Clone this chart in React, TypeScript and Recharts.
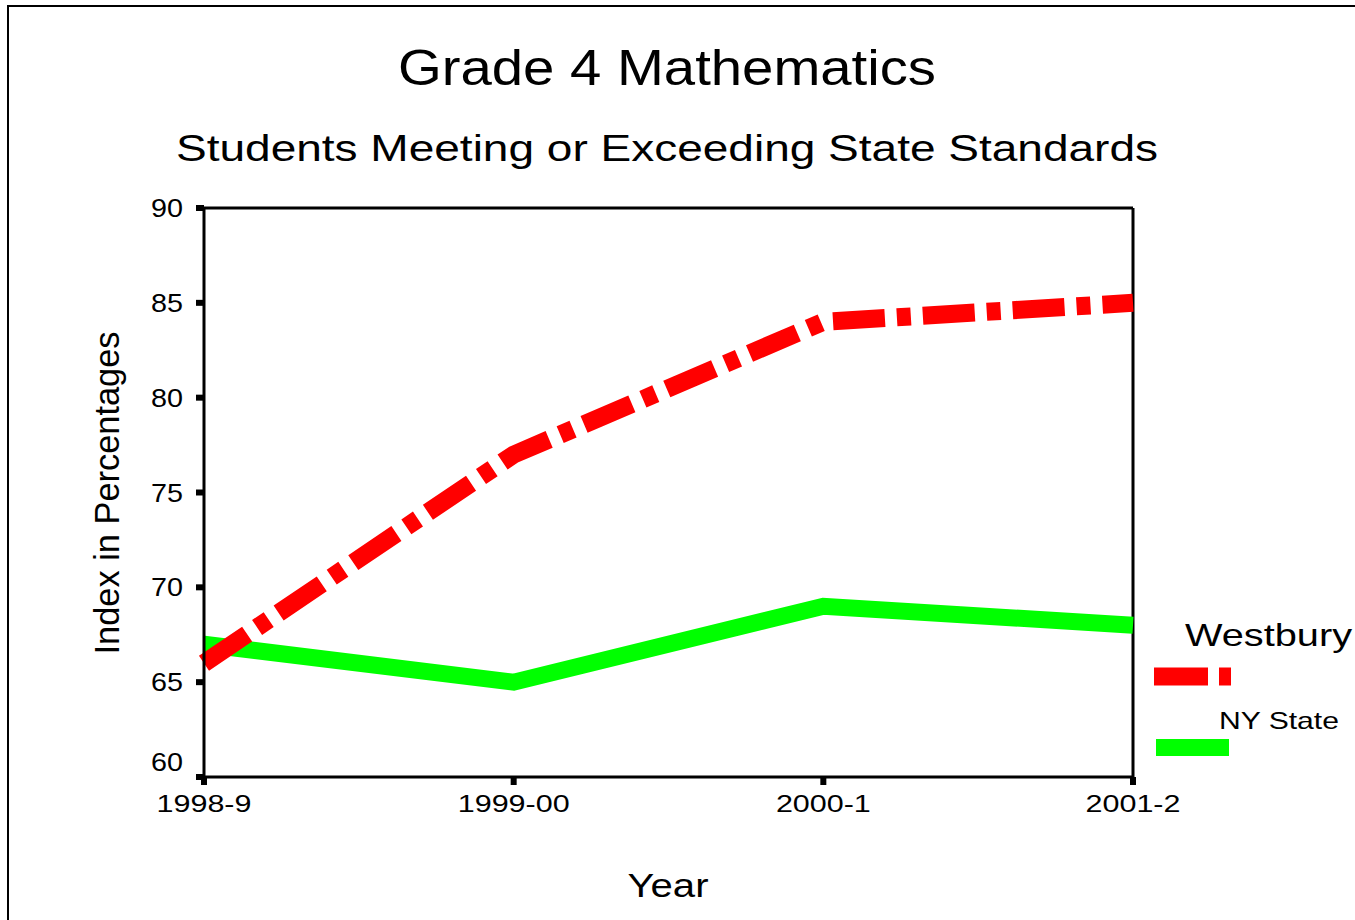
import React from 'react'
import { LineChart, Line, XAxis, YAxis, ReferenceLine, Legend } from 'recharts'

const years = ['1998-9', '1999-00', '2000-1', '2001-2']
const westbury = [66, 77, 84, 85]
const nyState = [67, 65, 69, 68]
const yTicks = [60, 65, 70, 75, 80, 85, 90]

const data = years.map((year, i) => ({ year, westbury: westbury[i], nyState: nyState[i] }))

const FONT = '"Liberation Sans", Arial, sans-serif'

// legend placement, the original has odd sizes per entry
const legendLayout: any = {
    Westbury: { textX: 35, textY: 46, fontSize: 32, textLength: 167, x1: 4, x2: 81, lineY: 76.5, dash: '54 11 12 11' },
    'NY State': { textX: 69, textY: 129, fontSize: 24, textLength: 120, x1: 6, x2: 79, lineY: 147.5, dash: undefined },
}

const YTick = ({ x, y, payload }: any) => {
    // bottom label sits a bit above its tick in the original
    const dy = payload.value === yTicks[0] ? -6 : 9
    return (
        <text transform={`translate(${x},${y + dy}) scale(1.15,1)`} textAnchor="end" fontSize={25} fontFamily={FONT} fill="#000">
            {payload.value}
        </text>
    )
}

const XTick = ({ x, y, payload }: any) => (
    <text transform={`translate(${x},${y + 27}) scale(1.27,1)`} textAnchor="middle" fontSize={24} fontFamily={FONT} fill="#000">
        {payload.value}
    </text>
)

const LegendContent = ({ payload }: any) => (
    <svg width={205} height={170} style={{ display: 'block' }}>
        {(payload || []).map((entry: any) => {
            const s = legendLayout[entry.value]
            if (!s) return null
            return (
                <g key={entry.value}>
                    <text x={s.textX} y={s.textY} fontSize={s.fontSize} textLength={s.textLength} lengthAdjust="spacingAndGlyphs" fontFamily={FONT} fill="#000">
                        {entry.value}
                    </text>
                    <line x1={s.x1} x2={s.x2} y1={s.lineY} y2={s.lineY} stroke={entry.color} strokeWidth={entry.payload?.strokeWidth} strokeDasharray={s.dash} />
                </g>
            )
        })}
    </svg>
)

export default function App() {
    return (
        <div style={{ position: 'fixed', left: 0, top: 0, width: 1355, height: 920, overflow: 'hidden', background: '#fff' }}>
            <div style={{ position: 'absolute', left: 7, top: 5, width: 1400, height: 1000, border: '2px solid #000' }} />
            {/* legend reserves its 205px on the right, so margin.right is 222 - 205 */}
            <LineChart width={1355} height={920} data={data} margin={{ top: 208, right: 17, bottom: 103, left: 124 }} style={{ position: 'absolute', left: 0, top: 0 }}>
                <XAxis
                    dataKey="year"
                    height={40}
                    stroke="#000"
                    strokeWidth={3}
                    tickLine={{ stroke: '#000', strokeWidth: 6 }}
                    tickSize={8}
                    tickMargin={0}
                    tick={<XTick />}
                    interval={0}
                />
                <YAxis
                    type="number"
                    domain={[60, 90]}
                    ticks={yTicks}
                    width={80}
                    stroke="#000"
                    strokeWidth={3}
                    tickLine={{ stroke: '#000', strokeWidth: 6 }}
                    tickSize={8}
                    tickMargin={13}
                    tick={<YTick />}
                    interval={0}
                />
                <ReferenceLine y={90} stroke="#000" strokeWidth={3} />
                <ReferenceLine x="2001-2" stroke="#000" strokeWidth={3} />
                <Line
                    type="linear"
                    dataKey="nyState"
                    name="NY State"
                    stroke="#00ff00"
                    strokeWidth={17}
                    dot={false}
                    activeDot={false}
                    isAnimationActive={false}
                />
                <Line
                    type="linear"
                    dataKey="westbury"
                    name="Westbury"
                    stroke="#ff0000"
                    strokeWidth={18}
                    strokeDasharray="52 12 14 12"
                    dot={false}
                    activeDot={false}
                    isAnimationActive={false}
                />
                <Legend
                    layout="horizontal"
                    verticalAlign="middle"
                    align="right"
                    width={205}
                    height={170}
                    content={<LegendContent />}
                    wrapperStyle={{ left: 1150, top: 600, width: 205, height: 170 }}
                />
            </LineChart>
            <svg width={1355} height={920} style={{ position: 'absolute', left: 0, top: 0, pointerEvents: 'none' }}>
                <text x={667} y={85} textAnchor="middle" fontSize={50} textLength={538} lengthAdjust="spacingAndGlyphs" fontFamily={FONT} fill="#000">
                    Grade 4 Mathematics
                </text>
                <text x={667} y={161} textAnchor="middle" fontSize={36} textLength={982} lengthAdjust="spacingAndGlyphs" fontFamily={FONT} fill="#000">
                    Students Meeting or Exceeding State Standards
                </text>
                <text transform="translate(119,493) rotate(-90)" textAnchor="middle" fontSize={35} textLength={323} lengthAdjust="spacingAndGlyphs" fontFamily={FONT} fill="#000">
                    Index in Percentages
                </text>
                <text x={668} y={897} textAnchor="middle" fontSize={33} textLength={81} lengthAdjust="spacingAndGlyphs" fontFamily={FONT} fill="#000">
                    Year
                </text>
            </svg>
        </div>
    )
}
